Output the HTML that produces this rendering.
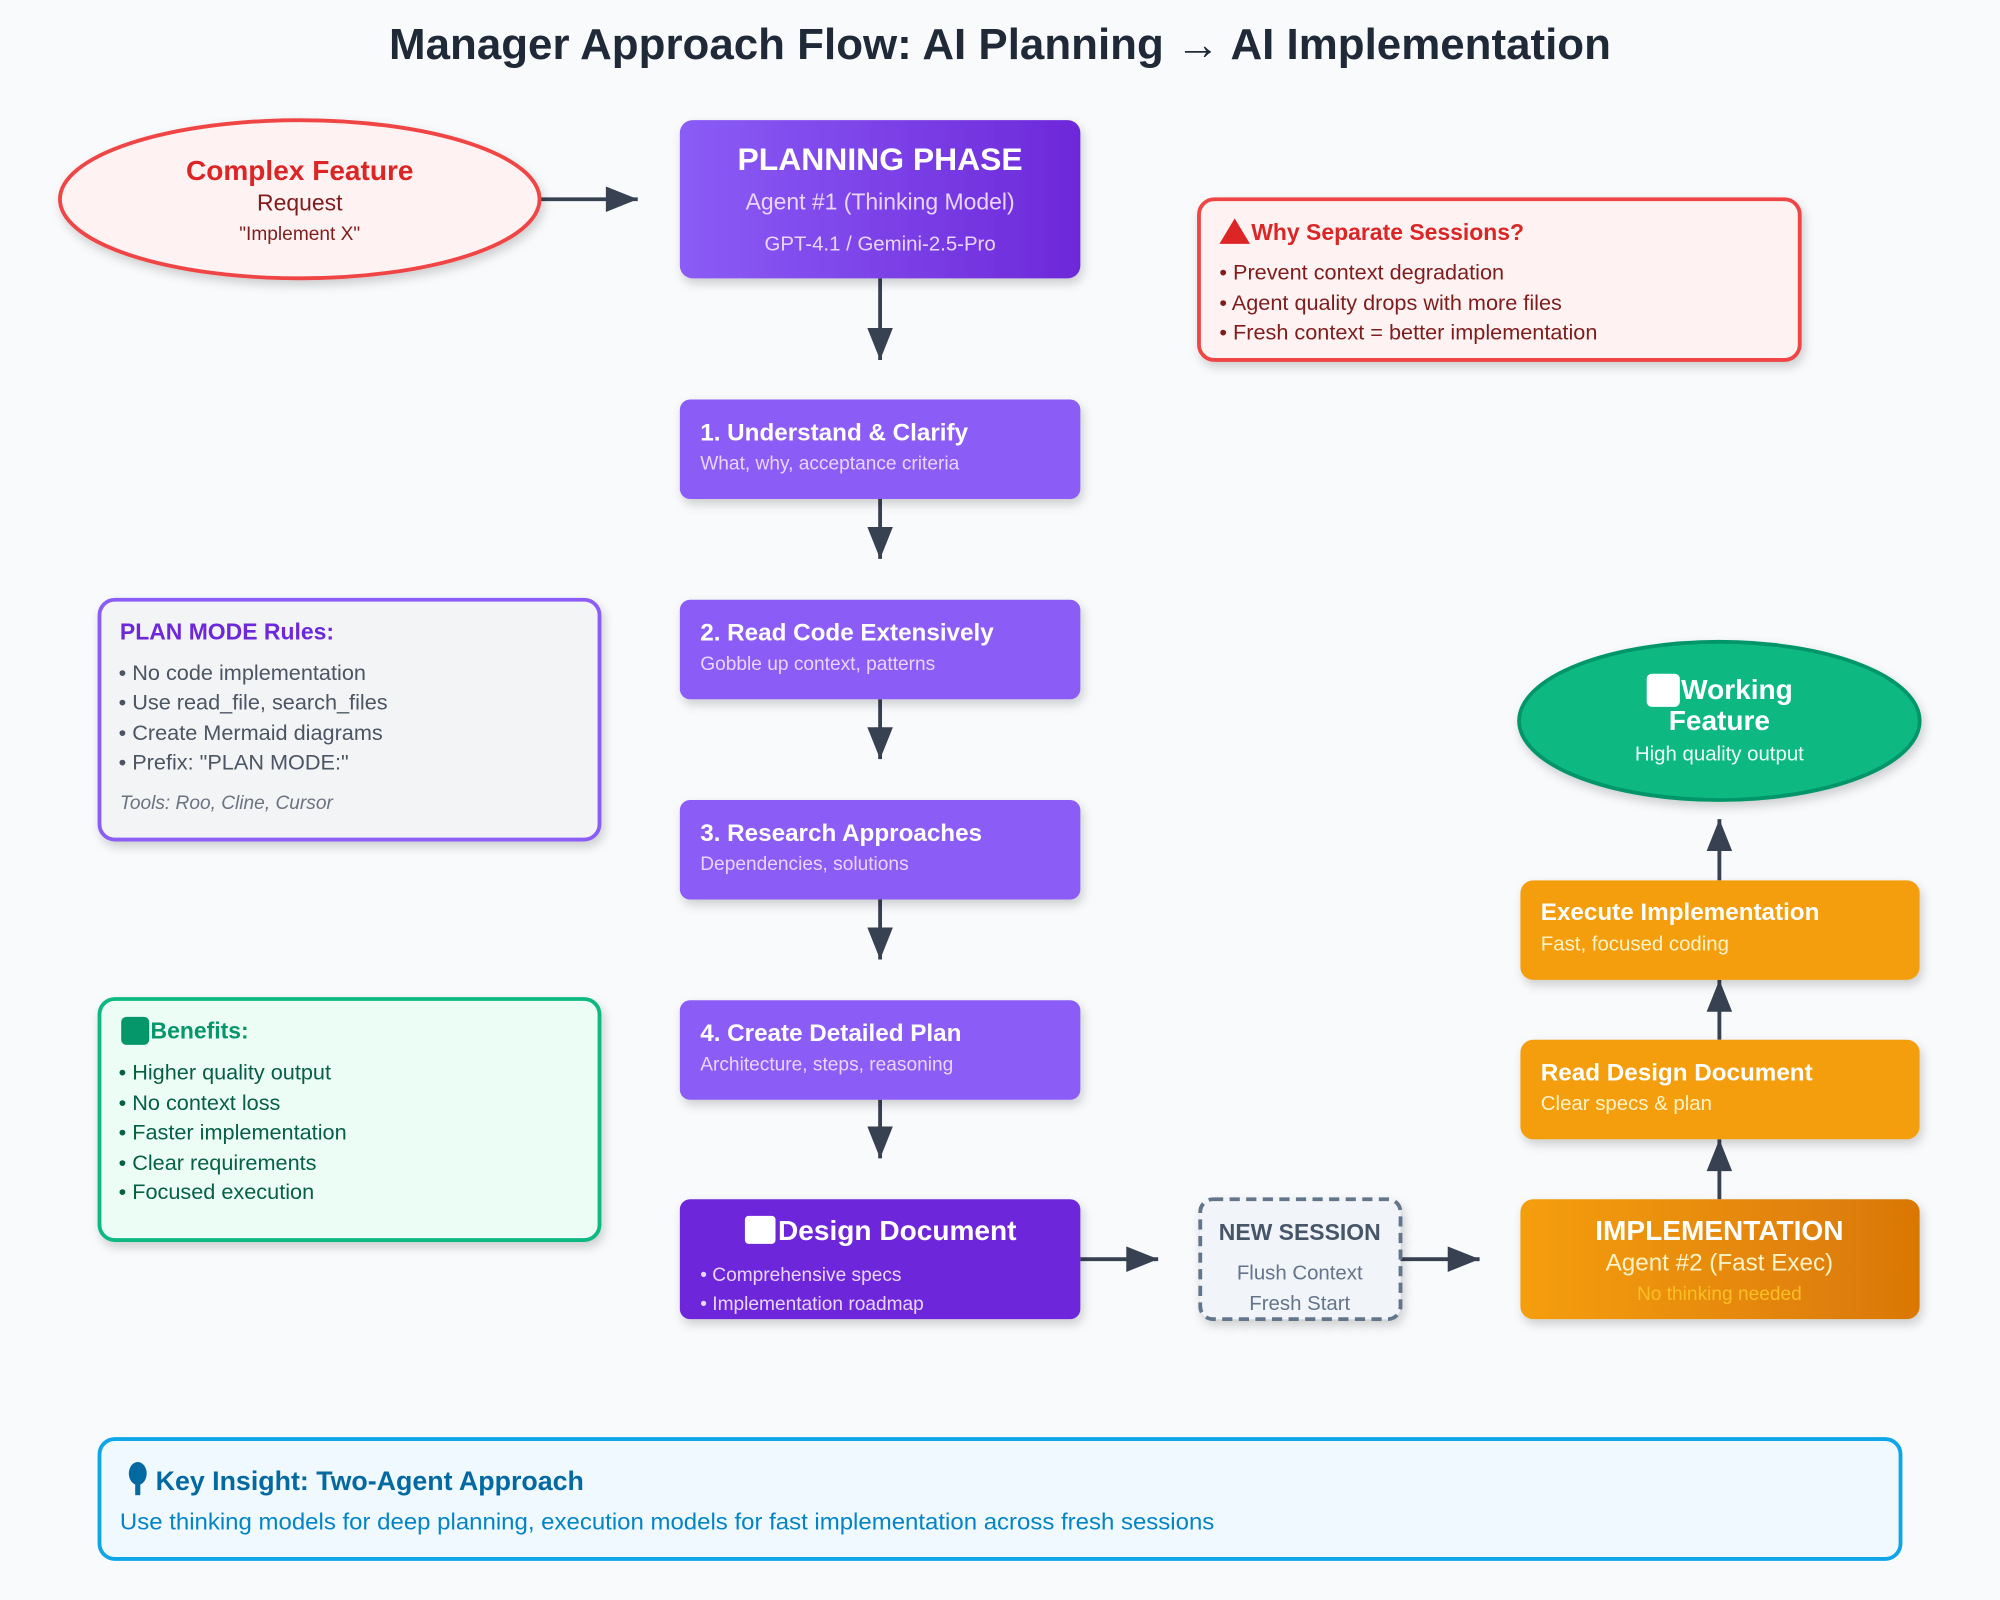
<!DOCTYPE html>
<html><head><meta charset="utf-8"><style>
html,body{margin:0;padding:0;background:#f8fafc;}
svg{display:block;font-family:"Liberation Sans",Arial,sans-serif;}
</style></head><body>
<svg width="2000" height="1600" viewBox="0 0 1568 1254" xmlns="http://www.w3.org/2000/svg">
<defs>
<linearGradient id="gp" x1="0" x2="1"><stop offset="0" stop-color="#8b5cf6"/><stop offset="1" stop-color="#6d28d9"/></linearGradient>
<linearGradient id="go" x1="0" x2="1"><stop offset="0" stop-color="#f59e0b"/><stop offset="1" stop-color="#d97706"/></linearGradient>
<filter id="sh" x="-10%" y="-10%" width="130%" height="140%"><feDropShadow dx="2" dy="4" stdDeviation="4" flood-color="#000" flood-opacity="0.18"/></filter>
<marker id="a2" viewBox="0 0 10 8" markerWidth="32" markerHeight="20" refX="10" refY="4" orient="auto" markerUnits="userSpaceOnUse"><path d="M0,0 L10,4 L0,8z" fill="#374151"/></marker>
</defs>
<rect width="1568" height="1254" fill="#f8fafc"/>
<text x="784" y="46" text-anchor="middle" font-size="34" font-weight="bold" fill="#1f2937" textLength="958" lengthAdjust="spacingAndGlyphs">Manager Approach Flow: AI Planning → AI Implementation</text>

<g stroke="#374151" stroke-width="3" fill="none">
<line x1="424" y1="156" x2="500" y2="156" marker-end="url(#a2)"/>
<line x1="690" y1="218" x2="690" y2="282" marker-end="url(#a2)"/>
<line x1="690" y1="391" x2="690" y2="438" marker-end="url(#a2)"/>
<line x1="690" y1="548" x2="690" y2="595" marker-end="url(#a2)"/>
<line x1="690" y1="705" x2="690" y2="752" marker-end="url(#a2)"/>
<line x1="690" y1="862" x2="690" y2="908" marker-end="url(#a2)"/>
<line x1="847" y1="987" x2="908" y2="987" marker-end="url(#a2)"/>
<line x1="1098" y1="987" x2="1160" y2="987" marker-end="url(#a2)"/>
<line x1="1348" y1="940" x2="1348" y2="893" marker-end="url(#a2)"/>
<line x1="1348" y1="815" x2="1348" y2="768" marker-end="url(#a2)"/>
<line x1="1348" y1="690" x2="1348" y2="642" marker-end="url(#a2)"/>
</g>

<ellipse cx="235" cy="156" rx="188" ry="62" fill="#fef2f2" stroke="#ef4444" stroke-width="3" filter="url(#sh)"/>
<text x="235" y="141" text-anchor="middle" font-size="22" font-weight="bold" fill="#dc2626">Complex Feature</text>
<text x="235" y="165" text-anchor="middle" font-size="18" fill="#7f1d1d">Request</text>
<text x="235" y="188" text-anchor="middle" font-size="15" fill="#7f1d1d">"Implement X"</text>

<rect x="533" y="94" width="314" height="124" rx="10" fill="url(#gp)" filter="url(#sh)"/>
<text x="690" y="133" text-anchor="middle" font-size="25" font-weight="bold" fill="#fff">PLANNING PHASE</text>
<text x="690" y="164" text-anchor="middle" font-size="18" fill="#e9d5ff">Agent #1 (Thinking Model)</text>
<text x="690" y="196" text-anchor="middle" font-size="16" fill="#e9d5ff">GPT-4.1 / Gemini-2.5-Pro</text>

<g filter="url(#sh)" fill="#8b5cf6">
<rect x="533" y="313" width="314" height="78" rx="8"/>
<rect x="533" y="470" width="314" height="78" rx="8"/>
<rect x="533" y="627" width="314" height="78" rx="8"/>
<rect x="533" y="784" width="314" height="78" rx="8"/>
</g>
<g font-size="19" font-weight="bold" fill="#fff">
<text x="549" y="345">1. Understand &amp; Clarify</text>
<text x="549" y="502">2. Read Code Extensively</text>
<text x="549" y="659">3. Research Approaches</text>
<text x="549" y="816">4. Create Detailed Plan</text>
</g>
<g font-size="15" fill="#e9d5ff">
<text x="549" y="368">What, why, acceptance criteria</text>
<text x="549" y="525">Gobble up context, patterns</text>
<text x="549" y="682">Dependencies, solutions</text>
<text x="549" y="839">Architecture, steps, reasoning</text>
</g>

<rect x="533" y="940" width="314" height="94" rx="8" fill="#6d28d9" filter="url(#sh)"/>
<rect x="584" y="953" width="24" height="22" rx="3" fill="#fff"/>
<text x="610" y="972" font-size="22" font-weight="bold" fill="#fff">Design Document</text>
<text x="549" y="1004" font-size="15" fill="#e9d5ff">• Comprehensive specs</text>
<text x="549" y="1027" font-size="15" fill="#e9d5ff">• Implementation roadmap</text>

<rect x="941" y="940" width="157" height="94" rx="10" fill="#f1f5f9" stroke="#64748b" stroke-width="3" stroke-dasharray="8,5" filter="url(#sh)"/>
<text x="1019" y="972" text-anchor="middle" font-size="18" font-weight="bold" fill="#475569">NEW SESSION</text>
<text x="1019" y="1003" text-anchor="middle" font-size="16" fill="#64748b">Flush Context</text>
<text x="1019" y="1027" text-anchor="middle" font-size="16" fill="#64748b">Fresh Start</text>

<rect x="1192" y="940" width="313" height="94" rx="10" fill="url(#go)" filter="url(#sh)"/>
<text x="1348" y="972" text-anchor="middle" font-size="22" font-weight="bold" fill="#fff">IMPLEMENTATION</text>
<text x="1348" y="996" text-anchor="middle" font-size="19" fill="#fef3c7">Agent #2 (Fast Exec)</text>
<text x="1348" y="1019" text-anchor="middle" font-size="15" fill="#fbbf24">No thinking needed</text>

<rect x="1192" y="815" width="313" height="78" rx="10" fill="#f59e0b" filter="url(#sh)"/>
<text x="1208" y="847" font-size="19" font-weight="bold" fill="#fff">Read Design Document</text>
<text x="1208" y="870" font-size="16" fill="#fef3c7">Clear specs &amp; plan</text>
<rect x="1192" y="690" width="313" height="78" rx="10" fill="#f59e0b" filter="url(#sh)"/>
<text x="1208" y="721" font-size="19" font-weight="bold" fill="#fff">Execute Implementation</text>
<text x="1208" y="745" font-size="16" fill="#fef3c7">Fast, focused coding</text>

<ellipse cx="1348" cy="565" rx="157" ry="62" fill="#10b981" stroke="#059669" stroke-width="3" filter="url(#sh)"/>
<rect x="1291" y="528" width="26" height="26" rx="4" fill="#fff"/>
<text x="1318" y="548" font-size="22" font-weight="bold" fill="#fff">Working</text>
<text x="1348" y="572" text-anchor="middle" font-size="22" font-weight="bold" fill="#fff">Feature</text>
<text x="1348" y="596" text-anchor="middle" font-size="16" fill="#ecfdf5">High quality output</text>

<rect x="940" y="156" width="471" height="126" rx="12" fill="#fef2f2" stroke="#ef4444" stroke-width="3" filter="url(#sh)"/>
<path d="M968 171 L980 191 L956 191z" fill="#dc2626"/>
<text x="981" y="188" font-size="18" font-weight="bold" fill="#dc2626">Why Separate Sessions?</text>
<g font-size="17" fill="#7f1d1d">
<text x="956" y="219">• Prevent context degradation</text>
<text x="956" y="243">• Agent quality drops with more files</text>
<text x="956" y="266">• Fresh context = better implementation</text>
</g>

<rect x="78" y="470" width="392" height="188" rx="12" fill="#f3f4f6" stroke="#8b5cf6" stroke-width="3" filter="url(#sh)"/>
<text x="94" y="501" font-size="18" font-weight="bold" fill="#6d28d9">PLAN MODE Rules:</text>
<g font-size="17" fill="#4b5563">
<text x="93" y="533">• No code implementation</text>
<text x="93" y="556">• Use read_file, search_files</text>
<text x="93" y="580">• Create Mermaid diagrams</text>
<text x="93" y="603">• Prefix: "PLAN MODE:"</text>
</g>
<text x="94" y="634" font-size="15" font-style="italic" fill="#6b7280">Tools: Roo, Cline, Cursor</text>

<rect x="78" y="783" width="392" height="189" rx="12" fill="#ecfdf5" stroke="#10b981" stroke-width="3" filter="url(#sh)"/>
<rect x="95" y="797" width="22" height="22" rx="4" fill="#059669"/>
<text x="118" y="814" font-size="18" font-weight="bold" fill="#059669">Benefits:</text>
<g font-size="17" fill="#065f46">
<text x="93" y="846">• Higher quality output</text>
<text x="93" y="870">• No context loss</text>
<text x="93" y="893">• Faster implementation</text>
<text x="93" y="917">• Clear requirements</text>
<text x="93" y="940">• Focused execution</text>
</g>

<rect x="78" y="1128" width="1412" height="94" rx="12" fill="#f0f9ff" stroke="#0ea5e9" stroke-width="3"/>
<ellipse cx="108" cy="1155" rx="7" ry="9" fill="#0369a1"/><rect x="106" y="1160" width="4" height="12" fill="#0369a1"/>
<text x="122" y="1168" font-size="21" font-weight="bold" fill="#0369a1">Key Insight: Two-Agent Approach</text>
<text x="94" y="1199" font-size="18" fill="#0284c7" textLength="858" lengthAdjust="spacingAndGlyphs">Use thinking models for deep planning, execution models for fast implementation across fresh sessions</text>
</svg>
</body></html>
